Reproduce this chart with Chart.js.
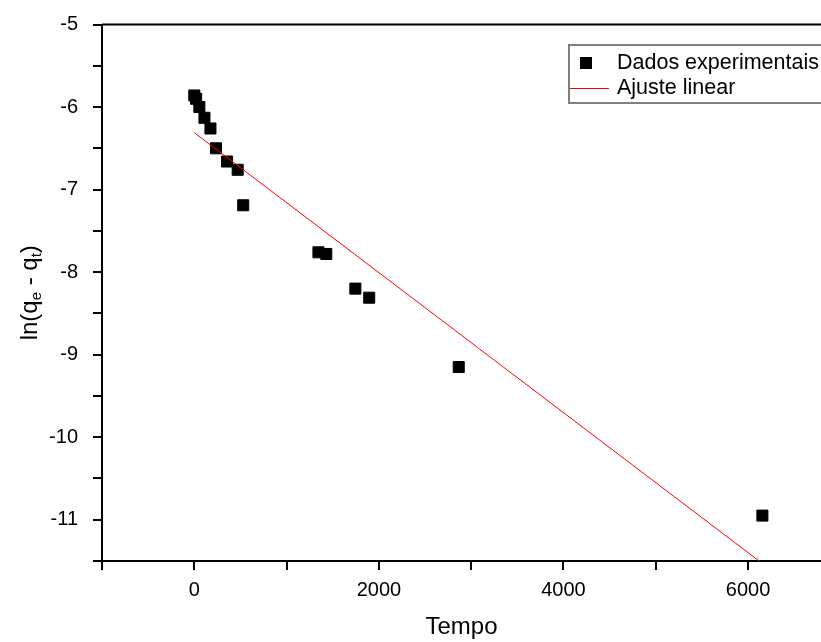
<!DOCTYPE html>
<html>
<head>
<meta charset="utf-8">
<script src="https://cdn.jsdelivr.net/npm/chart.js@4.4.1/dist/chart.umd.min.js"></script>
<style>
  html, body { margin: 0; padding: 0; background: #fff; overflow: hidden; }
</style>
</head>
<body>
<canvas id="chart" width="821" height="642"></canvas>
<script>
// dados
const tempo = [0, 20, 55, 110, 175, 235, 355, 470, 530, 1345, 1430, 1745, 1895, 2865, 6155];
const lnQ = [-5.86, -5.90, -6.00, -6.13, -6.26, -6.50, -6.66, -6.76, -7.19, -7.76, -7.78, -8.20, -8.31, -9.15, -10.95];

// reta do ajuste linear
const ajusteTempo = [0, 6155];
const ajusteLn = [-6.31, -11.53];

// marcas e rótulos dos eixos
const xTickPos = [-1000, 0, 1000, 2000, 3000, 4000, 5000, 6000];
const xTicks = [0, 2000, 4000, 6000];
const yTickPos = [-11.5, -11, -10.5, -10, -9.5, -9, -8.5, -8, -7.5, -7, -6.5, -6, -5.5, -5];
const yTicks = [-5, -6, -7, -8, -9, -10, -11];

const FONT = 'Arial, "Liberation Sans", sans-serif';
const ctx = document.getElementById("chart").getContext("2d");

// caixa da legenda
const legendBox = {
  id: "legendBox",
  afterDatasetsDraw(chart) {
    const { ctx, chartArea } = chart;
    const ds = chart.data.datasets;
    const left = chartArea.left + 467;
    const top = chartArea.top + 20.5;
    ctx.save();
    ctx.strokeStyle = "#7f7f7f";
    ctx.lineWidth = 2;
    ctx.strokeRect(left, top, 320, 58);
    ctx.font = "21.5px " + FONT;
    ctx.textBaseline = "middle";
    ctx.fillStyle = "#000";
    ctx.fillRect(left + 11, top + 12, 12, 12);
    ctx.fillText(ds[0].label, left + 48, top + 18);
    ctx.strokeStyle = "#ff0000";
    ctx.lineWidth = 1;
    ctx.beginPath();
    ctx.moveTo(left + 1, top + 43.5);
    ctx.lineTo(left + 40, top + 43.5);
    ctx.stroke();
    ctx.fillText(ds[1].label, left + 48, top + 43);
    ctx.restore();
  },
};

// linha de cima e título do eixo y com subscritos
const frameAndTitle = {
  id: "frameAndTitle",
  afterDraw(chart) {
    const { ctx, chartArea } = chart;
    ctx.save();
    ctx.strokeStyle = "#000";
    ctx.lineWidth = 2;
    ctx.beginPath();
    ctx.moveTo(chartArea.left, chartArea.top);
    ctx.lineTo(chart.width, chartArea.top);
    ctx.stroke();

    const parts = [
      ["ln(q", false],
      ["e", true],
      [" - q", false],
      ["t", true],
      [")", false],
    ];
    const big = "24px " + FONT;
    const small = "15px " + FONT;
    let total = 0;
    parts.forEach(([t, sub]) => {
      ctx.font = sub ? small : big;
      total += ctx.measureText(t).width;
    });
    ctx.translate(30, (chartArea.top + chartArea.bottom) / 2);
    ctx.rotate(-Math.PI / 2);
    ctx.fillStyle = "#000";
    ctx.textBaseline = "middle";
    let x = -total / 2;
    parts.forEach(([t, sub]) => {
      ctx.font = sub ? small : big;
      ctx.fillText(t, x, sub ? 7 : 0);
      x += ctx.measureText(t).width;
    });
    ctx.restore();
  },
};

let chart = new Chart(ctx, {
  type: "scatter",
  data: {
    datasets: [
      {
        label: "Dados experimentais",
        data: tempo.map((t, i) => ({ x: t, y: lnQ[i] })),
        pointStyle: "rect",
        pointRadius: 7.8,
        pointHoverRadius: 7.8,
        backgroundColor: "#000",
        borderColor: "#000",
        borderWidth: 1,
        showLine: false,
        order: 1,
      },
      {
        label: "Ajuste linear",
        data: ajusteTempo.map((t, i) => ({ x: t, y: ajusteLn[i] })),
        showLine: true,
        borderColor: "#ff0000",
        borderWidth: 1,
        pointRadius: 0,
        fill: false,
        order: 0,
      },
    ],
  },
  options: {
    responsive: false,
    animation: false,
    devicePixelRatio: 1,
    layout: {
      autoPadding: false,
      padding: { top: 24.5, right: 0, left: 0, bottom: 0 },
    },
    plugins: {
      legend: { display: false },
      tooltip: { enabled: false },
    },
    scales: {
      x: {
        type: "linear",
        min: -1000,
        max: 6790,
        afterBuildTicks(scale) {
          scale.ticks = xTickPos.map((v) => ({ value: v }));
        },
        afterFit(scale) {
          scale.height = 81;
          scale.paddingLeft = 0;
          scale.paddingRight = 0;
        },
        border: { display: true, color: "#000", width: 2 },
        grid: {
          drawOnChartArea: false,
          drawTicks: true,
          tickLength: 9,
          color: "#000",
          lineWidth: 2,
        },
        ticks: {
          autoSkip: false,
          maxRotation: 0,
          padding: 8,
          color: "#000",
          font: { family: FONT, size: 20 },
          callback: (v) => (xTicks.includes(v) ? String(v) : ""),
        },
        title: {
          display: true,
          text: "Tempo",
          color: "#000",
          font: { family: FONT, size: 24 },
          padding: { top: 4, bottom: 0 },
        },
      },
      y: {
        type: "linear",
        min: -11.5,
        max: -5,
        afterBuildTicks(scale) {
          scale.ticks = yTickPos.map((v) => ({ value: v }));
        },
        afterFit(scale) {
          scale.width = 102;
          scale.paddingTop = 0;
          scale.paddingBottom = 0;
        },
        border: { display: true, color: "#000", width: 2 },
        grid: {
          drawOnChartArea: false,
          drawTicks: true,
          tickLength: 9,
          color: "#000",
          lineWidth: 2,
        },
        ticks: {
          autoSkip: false,
          padding: 15,
          color: "#000",
          font: { family: FONT, size: 20 },
          callback: (v) => (yTicks.includes(v) ? String(v) : ""),
        },
      },
    },
  },
  plugins: [legendBox, frameAndTitle],
});
</script>
</body>
</html>
